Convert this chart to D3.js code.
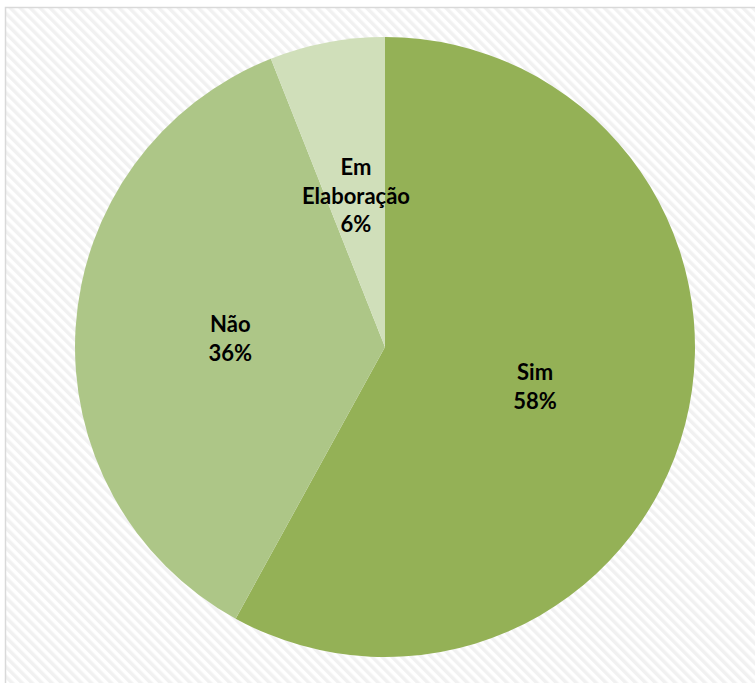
<!DOCTYPE html>
<html>
<head>
<meta charset="utf-8">
<script src="https://cdn.jsdelivr.net/npm/d3@7"></script>
<style>
  html, body { margin: 0; padding: 0; background: #ffffff; }
  svg { display: block; }
</style>
</head>
<body>
<div id="chart"></div>
<script>
// Categories and their shares (%), drawn clockwise from 12 o'clock
const categories = ["Sim", "Não", "Em Elaboração"];
const values = [58, 36, 6];
const labelLines = [["Sim"], ["Não"], ["Em", "Elaboração"]];
const colors = ["#94b156", "#adc687", "#d0dfba"];

const width = 755, height = 683;
const cx = 385, cy = 347, radius = 310;

const svg = d3.select("#chart").append("svg")
  .attr("width", width)
  .attr("height", height);

// Faint diagonal hatch used as the chart-area fill
const defs = svg.append("defs");
const pat = defs.append("pattern")
  .attr("id", "hatch")
  .attr("patternUnits", "userSpaceOnUse")
  .attr("width", 7)
  .attr("height", 7)
  .attr("patternTransform", "rotate(-45)");
pat.append("rect").attr("width", 7).attr("height", 7).attr("fill", "#ffffff");
pat.append("rect").attr("width", 3.5).attr("height", 7).attr("fill", "#f1f1f1");

svg.append("rect")
  .attr("x", 5.5).attr("y", 7.5)
  .attr("width", width + 10).attr("height", height + 10)
  .attr("fill", "url(#hatch)")
  .attr("stroke", "#d9d9d9")
  .attr("stroke-width", 1.5);

const data = categories.map((c, i) => ({ name: c, value: values[i], lines: labelLines[i], color: colors[i] }));

const pie = d3.pie().sort(null).value(d => d.value);
const arc = d3.arc().innerRadius(0).outerRadius(radius);

const g = svg.append("g").attr("transform", `translate(${cx},${cy})`);
const arcs = pie(data);

g.selectAll("path.slice")
  .data(arcs)
  .join("path")
  .attr("class", "slice")
  .attr("d", arc)
  .attr("fill", d => d.data.color);

const lineH = 28.5;
g.selectAll("text.lbl")
  .data(arcs)
  .join("text")
  .attr("class", "lbl")
  .attr("text-anchor", "middle")
  .attr("font-family", "Lato, 'Open Sans', sans-serif")
  .attr("font-weight", "bold")
  .attr("font-size", 22)
  .attr("fill", "#000000")
  .each(function(d) {
    const [x, y] = arc.centroid(d);
    const lines = d.data.lines.concat([Math.round(d.data.value) + "%"]);
    const top = y - (lines.length - 1) * lineH / 2 + 9;
    const t = d3.select(this);
    lines.forEach((ln, i) => {
      t.append("tspan").attr("x", x).attr("y", top + i * lineH).text(ln);
    });
  });
</script>
</body>
</html>
